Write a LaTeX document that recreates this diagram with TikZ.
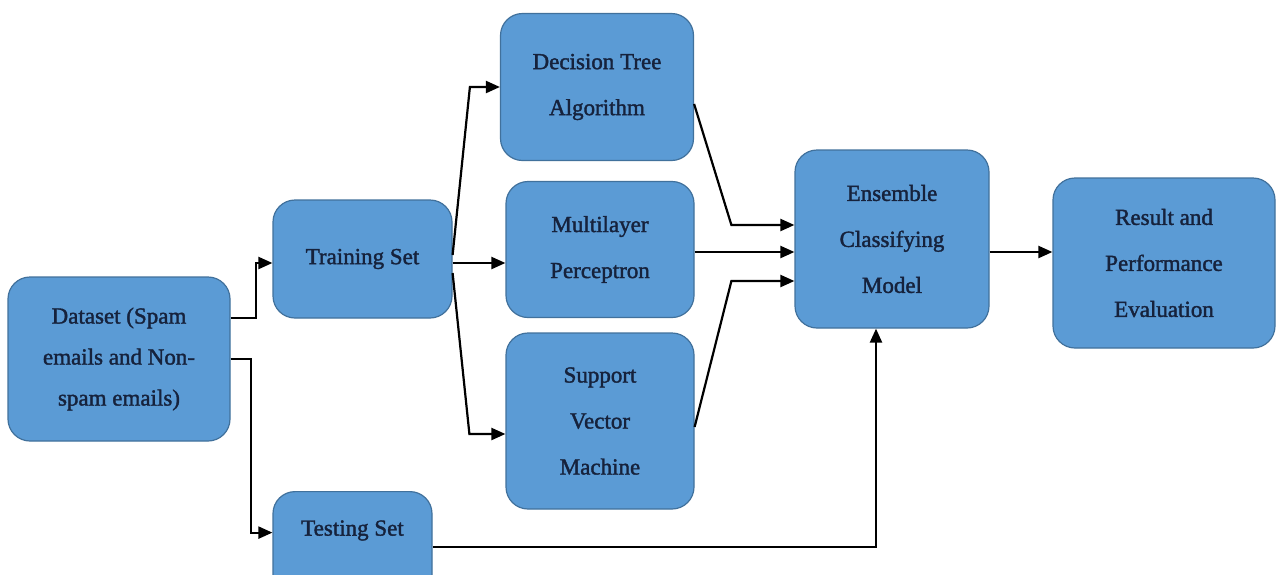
\documentclass[tikz,border=0pt]{standalone}
\usepackage{fontspec}
\setmainfont{Liberation Serif}[FakeBold=1.6]
\usetikzlibrary{arrows.meta,positioning,calc}
\definecolor{boxfill}{RGB}{91,155,213}
\definecolor{boxdraw}{RGB}{65,113,156}
\definecolor{labelcolor}{RGB}{22,34,60}
\tikzset{
stage/.style={
  draw=boxdraw,
  fill=boxfill,
  rounded corners=22pt,
  line width=1.2pt,
  inner sep=0pt,
  align=center,
  text=labelcolor,
  font=\fontsize{23}{46}\selectfont
},
arrow/.style={
  -{Triangle[length=14pt,width=12pt]},
  line width=2.2pt,
  draw=black
}
}

\begin{document}
\begin{tikzpicture}[x=1pt,y=-1pt]
  \fill[white] (0,0) rectangle (1277,574);
  \useasboundingbox (0,0) rectangle (1277,574);

  \node[stage, minimum width=222pt, minimum height=164pt,
        font=\fontsize{23}{41}\selectfont] (data) at (119,359)
        {Dataset (Spam\\emails and Non-\\spam emails)};
  \node[stage, minimum width=179pt, minimum height=118pt] (train) at (362.5,259) {Training Set};
  \node[stage, minimum width=159pt, anchor=north, text height=44pt, text depth=70pt]
        (test) at (352.5,491) {Testing Set};

  \node[stage, minimum width=193pt, minimum height=147pt] (dtree) at (597,87) {Decision Tree\\Algorithm};
  \node[stage, minimum width=188pt, minimum height=136pt] (mlp) at (600,249.5) {Multilayer\\Perceptron};
  \node[stage, minimum width=188pt, minimum height=176pt] (svm) at (600,421) {Support\\Vector\\Machine};

  \node[stage, minimum width=194pt, minimum height=178pt] (ens) at (892,239) {Ensemble\\Classifying\\Model};
  \node[stage, minimum width=222pt, minimum height=170pt] (result) at (1164,263) {Result and\\Performance\\Evaluation};

  % split of the dataset
  \draw[arrow] ([yshift=41pt]data.east) -- ++(25,0) |- ([yshift=-4pt]train.west);
  \draw[arrow] (data.east) -- ++(20,0) |- ([yshift=16pt]test.west);

  % training set feeds the three classifiers
  \draw[arrow] ([yshift=4pt]train.east) -- ([xshift=-30pt]dtree.west) -- (dtree.west);
  \draw[arrow] ([yshift=-4pt]train.east) -- ([yshift=-4pt]train.east -| mlp.west);
  \draw[arrow] ([yshift=-14pt]train.east) -- ([xshift=-36pt,yshift=-13pt]svm.west) -- ([yshift=-13pt]svm.west);

  % classifiers into the ensemble
  \draw[arrow] ([yshift=-17pt]dtree.east) -- ([xshift=-63pt,yshift=14pt]ens.west) -- ([yshift=14pt]ens.west);
  \draw[arrow] ([yshift=-2.5pt]mlp.east) -- ([yshift=-2.5pt]mlp.east -| ens.west);
  \draw[arrow] ([yshift=-6pt]svm.east) -- ([xshift=-63pt,yshift=-42pt]ens.west) -- ([yshift=-42pt]ens.west);

  \draw[arrow] ([yshift=2pt]test.east) -| ([xshift=-16pt]ens.south);
  \draw[arrow] ([yshift=-13pt]ens.east) -- ([yshift=-13pt]ens.east -| result.west);
\end{tikzpicture}
\end{document}
